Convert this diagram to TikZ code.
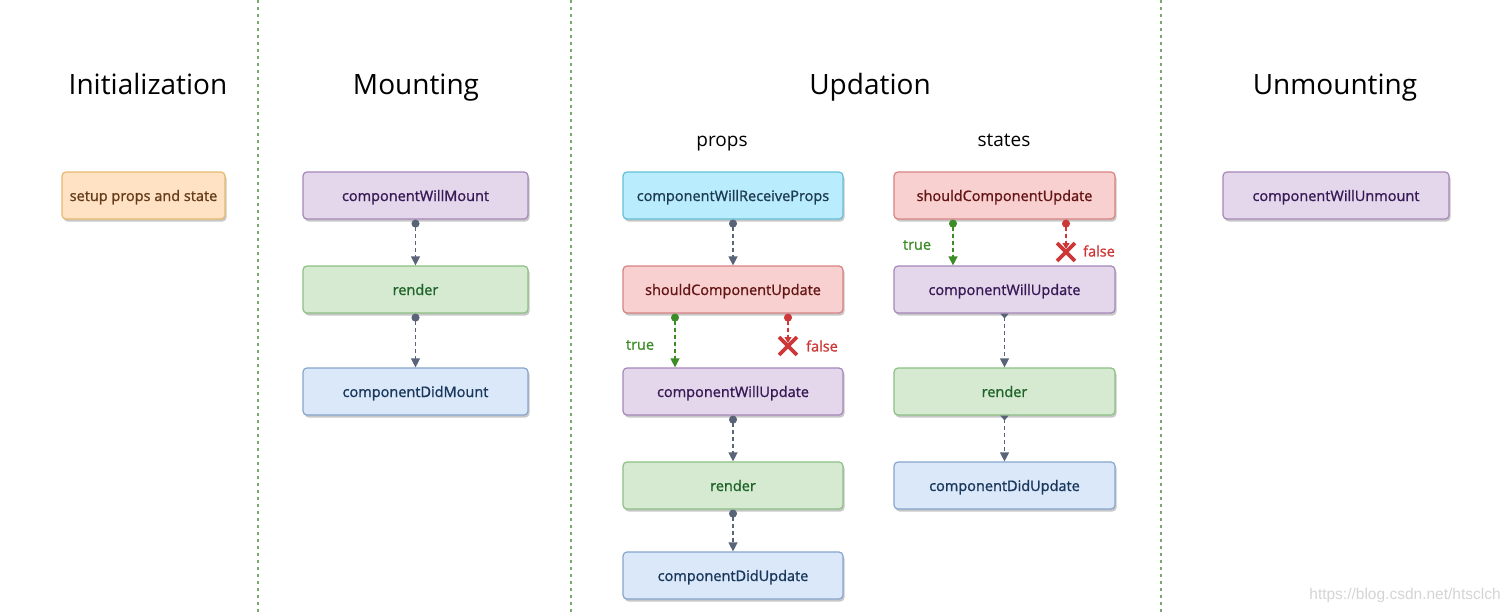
\documentclass[tikz,border=0pt]{standalone}
\usepackage{fontspec}
\setmainfont{Open Sans}
\newfontfamily\boxfont[RawFeature={embolden=1.2}]{Open Sans}
\newfontfamily\wmfont{Liberation Sans}
\usetikzlibrary{arrows.meta,shadows,shapes.misc}
\definecolor{divgreen}{RGB}{120,170,110}
\definecolor{initfill}{RGB}{255,226,196}
\definecolor{initline}{RGB}{230,186,110}
\definecolor{inittext}{RGB}{100,60,25}
\definecolor{willfill}{RGB}{228,215,235}
\definecolor{willline}{RGB}{165,135,185}
\definecolor{willtext}{RGB}{55,25,85}
\definecolor{rendfill}{RGB}{214,234,210}
\definecolor{rendline}{RGB}{140,192,132}
\definecolor{rendtext}{RGB}{30,100,40}
\definecolor{didfill}{RGB}{218,232,250}
\definecolor{didline}{RGB}{135,165,205}
\definecolor{didtext}{RGB}{25,55,90}
\definecolor{recvfill}{RGB}{185,236,252}
\definecolor{recvline}{RGB}{100,192,215}
\definecolor{recvtext}{RGB}{30,60,80}
\definecolor{shouldfill}{RGB}{248,208,208}
\definecolor{shouldline}{RGB}{215,130,130}
\definecolor{shouldtext}{RGB}{100,20,20}
\definecolor{linkgray}{RGB}{90,100,120}
\definecolor{yesgreen}{RGB}{60,140,40}
\definecolor{nored}{RGB}{205,55,55}

\tikzset{
  stage/.style={font=\fontsize{28}{30}\selectfont, anchor=base},
  branch/.style={font=\fontsize{19}{22}\selectfont, anchor=base},
  box/.style={draw, rounded corners=4pt, line width=1.2pt, minimum height=47pt,
    text height=12pt, text depth=1pt,
    font=\boxfont\fontsize{14.5}{16}\selectfont,
    drop shadow={shadow xshift=1.5pt, shadow yshift=-2.5pt, fill=black, opacity=0.22}},
  initbox/.style={box, fill=initfill, draw=initline, text=inittext},
  willbox/.style={box, fill=willfill, draw=willline, text=willtext},
  rendbox/.style={box, fill=rendfill, draw=rendline, text=rendtext},
  didbox/.style={box, fill=didfill, draw=didline, text=didtext},
  recvbox/.style={box, fill=recvfill, draw=recvline, text=recvtext},
  shouldbox/.style={box, fill=shouldfill, draw=shouldline, text=shouldtext},
  link/.style={draw=linkgray, line width=1.3pt, dash pattern=on 4pt off 3pt,
    {Circle[length=8pt]}-{Triangle[length=9pt,width=9pt]}},
  slink/.style={link, {Triangle[length=5pt,width=8pt,reversed]}-{Triangle[length=9pt,width=9pt]}},
  yeslink/.style={link, draw=yesgreen, fill=yesgreen},
  nolink/.style={link, draw=nored, fill=nored, {Circle[length=8pt]}-{Triangle[length=6pt,width=7pt]}},
  nocross/.style={cross out, draw=nored, line width=3.8pt, minimum size=14pt, inner sep=0pt},
  yeslabel/.style={text=yesgreen, font=\boxfont\fontsize{14.5}{16}\selectfont},
  nolabel/.style={text=nored, font=\boxfont\fontsize{14.5}{16}\selectfont},
  divider/.style={draw=divgreen, line width=1.2pt, dash pattern=on 3pt off 4pt},
}

\begin{document}
\begin{tikzpicture}[x=1pt, y=-1pt]
\useasboundingbox (0,0) rectangle (1511,613);
% column dividers
\draw[divider] (258,0) -- (258,613);
\draw[divider] (571,0) -- (571,613);
\draw[divider] (1161,0) -- (1161,613);

% headings
\node[stage] (hinit) at (148,94) {Initialization};
\node[stage] (hmount) at (416,94) {Mounting};
\node[stage] (hupd) at (870,94) {Updation};
\node[stage] (hunm) at (1335,94) {Unmounting};
\node[branch] (hprops) at (722,146) {props};
\node[branch] (hstates) at (1004,146) {states};

% initialization
\node[initbox, minimum width=163pt] (setup) at (143.5,195.5) {setup props and state};

% mounting
\node[willbox, minimum width=225pt] (mwill) at (415.5,195.5) {componentWillMount};
\node[rendbox, minimum width=225pt] (mrender) at (415.5,289.5) {render};
\node[didbox, minimum width=225pt] (mdid) at (415.5,391.5) {componentDidMount};
\draw[link] (mwill.south) -- (mrender.north);
\draw[link] (mrender.south) -- (mdid.north);

% updation: props
\node[recvbox, minimum width=220pt] (precv) at (733,195.5) {componentWillReceiveProps};
\node[shouldbox, minimum width=220pt] (pshould) at (733,289.5) {shouldComponentUpdate};
\node[willbox, minimum width=220pt] (pwill) at (733,391.5) {componentWillUpdate};
\node[rendbox, minimum width=220pt] (prender) at (733,485.5) {render};
\node[didbox, minimum width=220pt] (pdid) at (733,575.5) {componentDidUpdate};
\draw[link] (precv.south) -- (pshould.north);
\draw[yeslink] ([xshift=-58pt]pshould.south) -- ([xshift=-58pt]pwill.north);
\node[yeslabel] (ptrue) at (640,345) {true};
\node[nocross] (pno) at (788,346) {};
\draw[nolink, shorten >=3pt] ([xshift=55pt]pshould.south) -- (pno.center);
\node[nolabel] (pfalse) at (822,346) {false};
\draw[link] (pwill.south) -- (prender.north);
\draw[link] (prender.south) -- (pdid.north);

% updation: states
\node[shouldbox, minimum width=221pt] (sshould) at (1004.5,195.5) {shouldComponentUpdate};
\node[willbox, minimum width=221pt] (swill) at (1004.5,289.5) {componentWillUpdate};
\node[rendbox, minimum width=221pt] (srender) at (1004.5,391.5) {render};
\node[didbox, minimum width=221pt] (sdid) at (1004.5,485.5) {componentDidUpdate};
\draw[yeslink] ([xshift=-51.5pt]sshould.south) -- ([xshift=-51.5pt]swill.north);
\node[yeslabel] (strue) at (917,245) {true};
\node[nocross] (sno) at (1066,252) {};
\draw[nolink, shorten >=3pt] ([xshift=61.5pt]sshould.south) -- (sno.center);
\node[nolabel] (sfalse) at (1099,251) {false};
\draw[slink] (swill.south) -- (srender.north);
\draw[slink] (srender.south) -- (sdid.north);

% unmounting
\node[willbox, minimum width=226pt] (uwill) at (1336,195.5) {componentWillUnmount};

\node[text=black!17, font=\wmfont\fontsize{15.5}{17}\selectfont] (mark) at (1405,595) {https://blog.csdn.net/htsclch};
\end{tikzpicture}
\end{document}
